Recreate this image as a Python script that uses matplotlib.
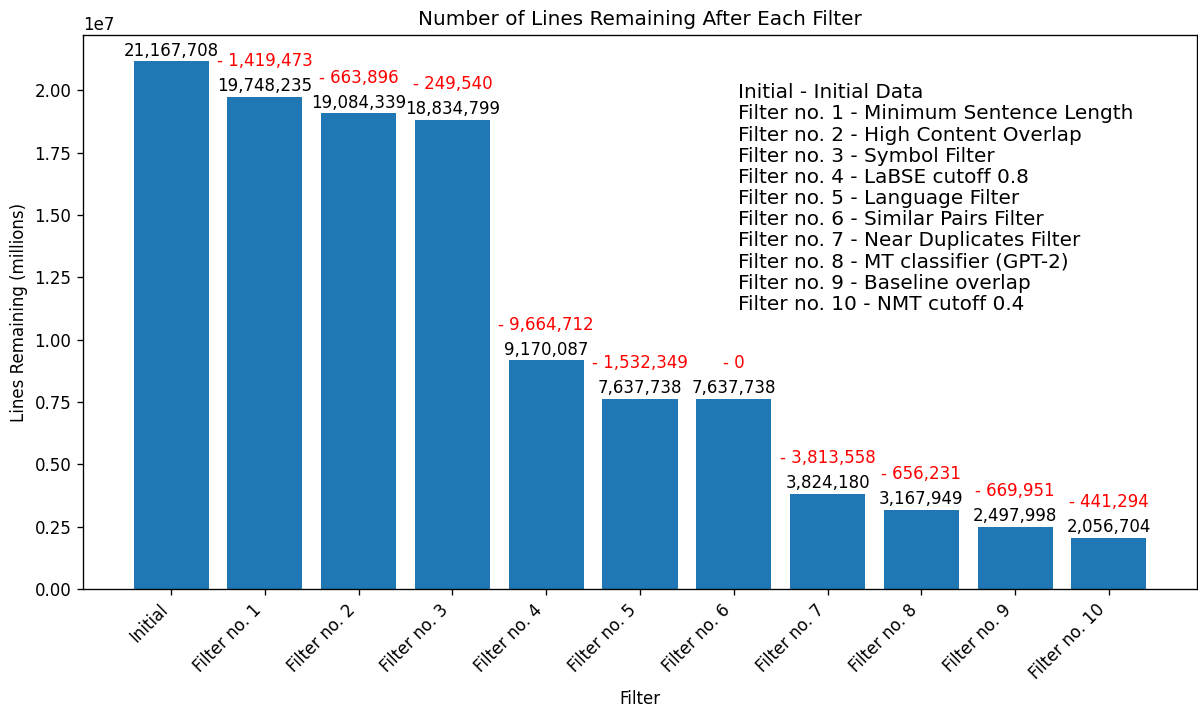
import numpy as np
import matplotlib
matplotlib.use('Agg')
import matplotlib.pyplot as plt

# lines left after each filter step
steps = ['Initial', 'Filter no. 1', 'Filter no. 2', 'Filter no. 3', 'Filter no. 4', 'Filter no. 5',
         'Filter no. 6', 'Filter no. 7', 'Filter no. 8', 'Filter no. 9', 'Filter no. 10']
remaining = [21167708, 19748235, 19084339, 18834799, 9170087, 7637738,
             7637738, 3824180, 3167949, 2497998, 2056704]
descriptions = ['Initial Data', 'Minimum Sentence Length', 'High Content Overlap', 'Symbol Filter',
                'LaBSE cutoff 0.8', 'Language Filter', 'Similar Pairs Filter', 'Near Duplicates Filter',
                'MT classifier (GPT-2)', 'Baseline overlap', 'NMT cutoff 0.4']

removed = -np.diff(remaining)

fig = plt.figure(figsize=(1198 / 120, 706 / 120), dpi=120)
ax = fig.add_axes([83 / 1198, 1 - 589 / 706, 1114 / 1198, 554 / 706])

bars = ax.bar(steps, remaining, color='#1f77b4')
ax.bar_label(bars, labels=['{:,}'.format(v) for v in remaining], padding=1, fontsize=10)

# red labels with the amount removed by each filter
for i, r in enumerate(removed):
    ax.annotate('- {:,}'.format(r), (i + 1, remaining[i + 1]), xytext=(0, 16),
                textcoords='offset points', ha='center', va='bottom', fontsize=10, color='red')

ax.set_title('Number of Lines Remaining After Each Filter', fontsize=12)
ax.set_xlabel('Filter')
ax.set_ylabel('Lines Remaining (millions)')
plt.setp(ax.get_xticklabels(), rotation=45, ha='right')

legend_text = '\n'.join(
    ('Initial' if i == 0 else 'Filter no. {}'.format(i)) + ' - ' + d for i, d in enumerate(descriptions))
ax.text(0.588, 0.913, legend_text, transform=ax.transAxes, fontsize=12, va='top', ha='left',
        linespacing=1.145)

fig.savefig('out.png', dpi=120)
